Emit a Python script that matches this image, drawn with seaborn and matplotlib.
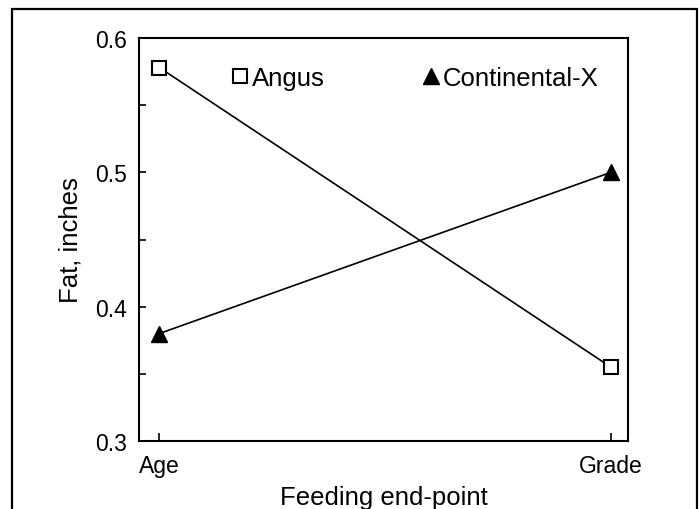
import pandas as pd
import matplotlib.pyplot as plt
import matplotlib.ticker as mticker
from matplotlib.lines import Line2D
from matplotlib.patches import Rectangle
import seaborn as sns

endpoints = ["Age", "Grade"]
angus = [0.578, 0.355]
continental = [0.38, 0.50]
y_ticks = [0.3, 0.4, 0.5, 0.6]

df = pd.DataFrame({
    "Feeding end-point": endpoints * 2,
    "Fat": angus + continental,
    "Breed": ["Angus"] * 2 + ["Continental-X"] * 2,
})

sns.set_style("ticks")
plt.rcParams['font.family'] = ['Liberation Sans', 'DejaVu Sans']
plt.rcParams['text.color'] = "black"
plt.rcParams['axes.labelcolor'] = "black"

fig = plt.figure(figsize=(6.99, 5.10), dpi=100)
ax = fig.add_axes([0.1989, 0.1333, 0.6996, 0.7902])

# Angus: open squares
sns.lineplot(data=df[df["Breed"] == "Angus"], x="Feeding end-point", y="Fat",
             color="black", lw=1.2, marker="s", ms=10.5, mfc="white",
             mec="black", mew=1.5, ax=ax, legend=False)
# Continental-X: filled triangles
sns.lineplot(data=df[df["Breed"] == "Continental-X"], x="Feeding end-point", y="Fat",
             color="black", lw=1.2, marker="^", ms=12, mfc="black",
             mec="black", mew=1, ax=ax, legend=False)

ax.set_xlim(-0.045, 1.038)
ax.set_ylim(0.3, 0.6)
ax.set_yticks(y_ticks)
ax.yaxis.set_minor_locator(mticker.MultipleLocator(0.05))
ax.yaxis.set_major_formatter(mticker.FormatStrFormatter('%.1f'))

for side in ["top", "right", "bottom", "left"]:
    ax.spines[side].set_linewidth(1.5)
    ax.spines[side].set_color("black")

ax.tick_params(axis="both", which="both", direction="in", length=5, width=1.2,
               colors="black", labelsize=16.5)
ax.tick_params(axis="x", pad=9, length=6)
ax.tick_params(axis="y", pad=9)

ax.set_xlabel("Feeding end-point", fontsize=18.5, labelpad=6)
ax.set_ylabel("Fat, inches", fontsize=18.5, labelpad=9)

handles = [
    Line2D([], [], ls="none", marker="s", ms=10.5, mfc="white", mec="black", mew=1.5),
    Line2D([], [], ls="none", marker="^", ms=12, mfc="black", mec="black"),
]
ax.legend(handles, ["Angus", "Continental-X"], ncol=2, frameon=False,
          fontsize=18.5, handlelength=0.6, handletextpad=0.15, columnspacing=3.85,
          loc="upper left", bbox_to_anchor=(0.159, 0.968), borderaxespad=0.2)

# border around the whole figure (bottom edge runs off the image)
fig.patches.append(Rectangle((12 / 699, -0.05), 685 / 699, 1.05 - 10 / 510,
                             transform=fig.transFigure, fill=False,
                             edgecolor="black", lw=1.6, clip_on=False))

fig.savefig("out.png", dpi=100)
